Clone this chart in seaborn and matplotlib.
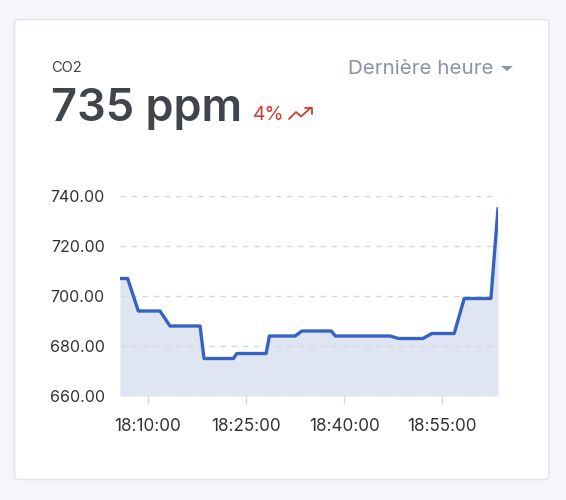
import pandas as pd
import matplotlib
matplotlib.use("Agg")
import matplotlib.pyplot as plt
import matplotlib.dates as mdates
import seaborn as sns
from matplotlib.patches import FancyBboxPatch
from matplotlib.lines import Line2D

# données
times = ["18:05:43", "18:06:53", "18:08:31", "18:11:50", "18:13:22", "18:17:58",
         "18:18:34", "18:23:04", "18:23:35", "18:28:04", "18:28:34", "18:32:30",
         "18:33:32", "18:38:01", "18:38:40", "18:47:02", "18:48:19", "18:52:03",
         "18:53:25", "18:56:50", "18:58:22", "19:02:27", "19:03:32"]
co2 = [707, 707, 694, 694, 688, 688,
       675, 675, 677, 677, 684, 684,
       686, 686, 684, 684, 683, 683,
       685, 685, 699, 699, 735]
x_ticks = ["18:10:00", "18:25:00", "18:40:00", "18:55:00"]
y_ticks = [660, 680, 700, 720, 740]

title = "CO2"
value_text = "735 ppm"
change_text = "4%"
period_text = "Dernière heure"

df = pd.DataFrame({"time": pd.to_datetime(["2024-01-01 " + t for t in times]),
                   "co2": co2})
tick_pos = pd.to_datetime(["2024-01-01 " + t for t in x_ticks])

sns.set_theme(style="white")
plt.rcParams["font.family"] = ["Inter", "DejaVu Sans"]

W, H = 566, 500
fig = plt.figure(figsize=(W / 100, H / 100), dpi=100)
fig.patch.set_facecolor("#f5f6fa")


def px(x, y):
    return x / W, 1 - y / H


# carte blanche
card = FancyBboxPatch(px(14.5, 479.5), (549 - 14.5) / W, (479.5 - 19.5) / H,
                      boxstyle="round,pad=0,rounding_size=0.008",
                      transform=fig.transFigure, facecolor="white",
                      edgecolor="#e1e4ec", linewidth=1.2, zorder=-5)
fig.patches.append(card)

# en-tête
fig.text(*px(51, 71.5), title, fontsize=10.5, color="#3f434a", va="baseline")
fig.text(*px(51, 121.5), value_text, fontsize=32.5, color="#40444b",
         va="baseline", fontweight="semibold")
fig.text(*px(253, 120), change_text, fontsize=14, color="#d23b30", va="baseline")
fig.text(*px(494, 74), period_text, fontsize=14.8, color="#8e93a0",
         va="baseline", ha="right")

# flèche de tendance
arrow_pts = [(289, 119), (296, 112), (301, 116.5), (311, 107.5)]
fig.add_artist(Line2D([px(*p)[0] for p in arrow_pts], [px(*p)[1] for p in arrow_pts],
                      transform=fig.transFigure, color="#d23b30", lw=1.3))
head = [(305, 107.5), (311.5, 107.5), (311.5, 114)]
fig.add_artist(Line2D([px(*p)[0] for p in head], [px(*p)[1] for p in head],
                      transform=fig.transFigure, color="#d23b30", lw=1.3))
# triangle du menu
tri = plt.Polygon([px(501, 66), px(513, 66), px(507, 71)], closed=True,
                  transform=fig.transFigure, facecolor="#8e93a0", edgecolor="none")
fig.patches.append(tri)

# graphique
ax = fig.add_axes([120 / W, 1 - 396 / H, (498 - 120) / W, 200 / H])
ax.set_facecolor("none")
ax.fill_between(df["time"], df["co2"], y_ticks[0], color="#dfe5f2", lw=0, zorder=1)
sns.lineplot(data=df, x="time", y="co2", ax=ax, color="#3663c2", lw=2.4, zorder=3)

ax.set_xlim(df["time"].iloc[0], df["time"].iloc[-1])
ax.set_ylim(y_ticks[0], y_ticks[-1])
ax.set_yticks(y_ticks)
ax.set_yticklabels([f"{v:.2f}" for v in y_ticks])
ax.set_xticks(tick_pos)
ax.xaxis.set_major_formatter(mdates.DateFormatter("%H:%M:%S"))
for v in y_ticks:
    ax.axhline(v, color="#d6d8dd", lw=1, ls=(0, (4, 4)), zorder=2)

ax.set_xlabel("")
ax.set_ylabel("")
for s in ax.spines.values():
    s.set_visible(False)
ax.tick_params(axis="y", length=0, pad=11, labelsize=11.5, labelcolor="#333333")
ax.tick_params(axis="x", length=6, width=1, color="#d9d9d9", pad=10,
               labelsize=12.3, labelcolor="#333333", bottom=True)

fig.savefig("out.png", dpi=100, facecolor=fig.get_facecolor())
